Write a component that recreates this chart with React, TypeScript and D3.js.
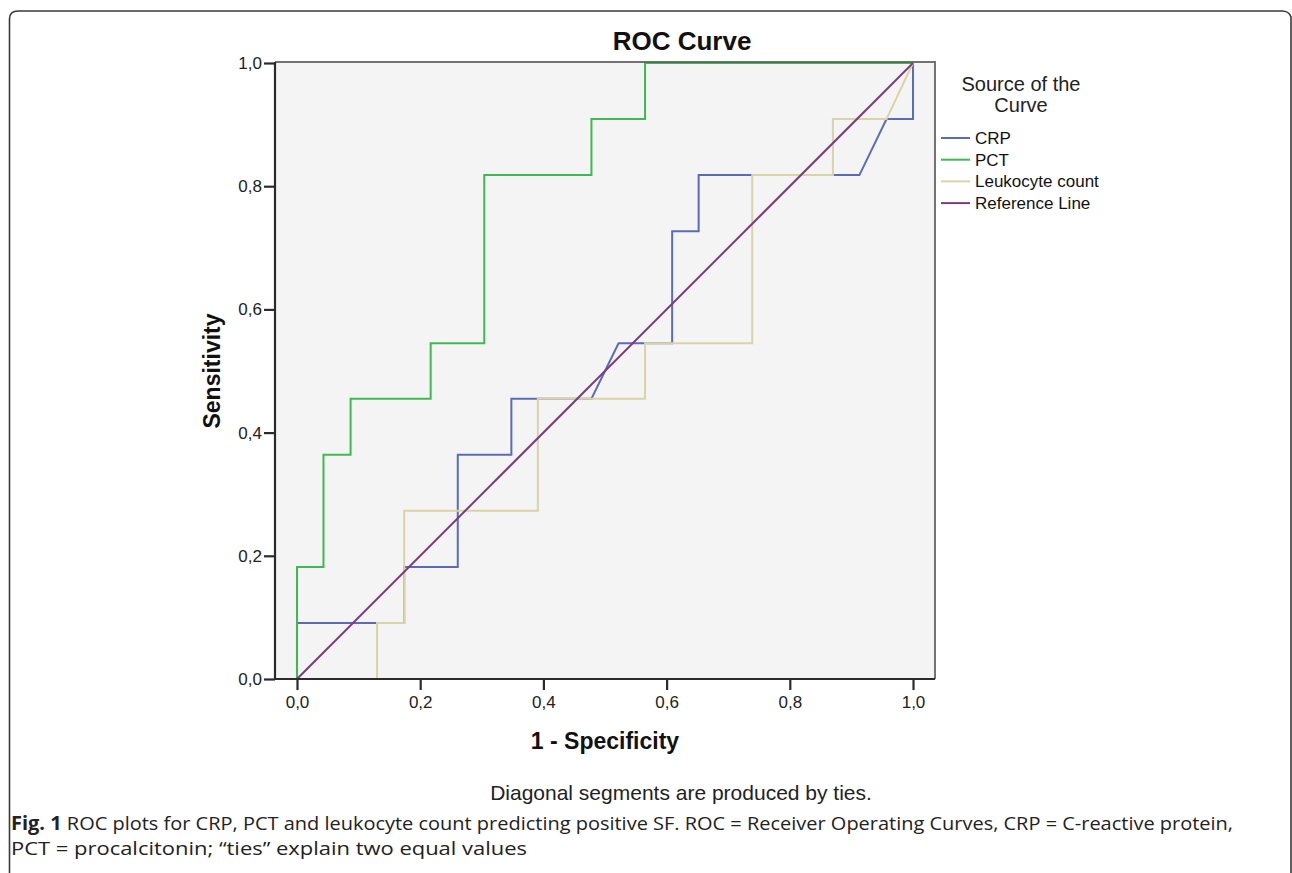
import React, { useEffect, useRef } from "react";
import * as d3 from "d3";

// ROC curve points (1 - specificity, sensitivity)
const CRP_X = [0, 0, 0.174, 0.174, 0.261, 0.261, 0.348, 0.348, 0.478, 0.522, 0.609, 0.609, 0.652, 0.652, 0.913, 0.957, 1, 1];
const CRP_Y = [0, 0.091, 0.091, 0.182, 0.182, 0.364, 0.364, 0.455, 0.455, 0.545, 0.545, 0.727, 0.727, 0.818, 0.818, 0.909, 0.909, 1];
const PCT_X = [0, 0, 0.043, 0.043, 0.087, 0.087, 0.217, 0.217, 0.304, 0.304, 0.478, 0.478, 0.565, 0.565, 1];
const PCT_Y = [0, 0.182, 0.182, 0.364, 0.364, 0.455, 0.455, 0.545, 0.545, 0.818, 0.818, 0.909, 0.909, 1, 1];
const LEU_X = [0, 0.13, 0.13, 0.174, 0.174, 0.391, 0.391, 0.565, 0.565, 0.739, 0.739, 0.87, 0.87, 0.957, 1];
const LEU_Y = [0, 0, 0.091, 0.091, 0.273, 0.273, 0.455, 0.455, 0.545, 0.545, 0.818, 0.818, 0.909, 0.909, 1];
const REF_X = [0, 1];
const REF_Y = [0, 1];

const SERIES = ["CRP", "PCT", "Leukocyte count", "Reference Line"];
const COLORS = ["#5b6cb6", "#3dba52", "#d9d3a8", "#7d3a7c"];
const TICKS = [0, 0.2, 0.4, 0.6, 0.8, 1];

const WIDTH = 1292;
const HEIGHT = 873;
const FRAME = { left: 275, right: 935, top: 62, bottom: 679 };
const PAD = 0.0357; // x padding in data units on each side
const FONT = "'Liberation Sans', Arial, sans-serif";
const CAP_FONT = "'Open Sans', sans-serif";

const X_SCALE = d3.scaleLinear().domain([-PAD, 1 + PAD]).range([FRAME.left, FRAME.right]);
const Y_SCALE = d3.scaleLinear().domain([0, 1]).range([FRAME.bottom, 63]);
const LOCALE = d3.formatLocale({ decimal: ",", thousands: ".", grouping: [3], currency: ["", ""] });
const FMT = LOCALE.format(".1f");

const zip = (xs: number[], ys: number[]) => xs.map((x, i) => [x, ys[i]] as [number, number]);

export default function App() {
  const ref = useRef<SVGSVGElement>(null);

  useEffect(() => {
    const svg = d3.select(ref.current);
    svg.selectAll("*").remove();

    // outer figure box (rounded top corners, runs off the bottom)
    svg
      .append("path")
      .attr("d", "M9.5,880 L9.5,19 Q9.5,11 18,11 L1282,11 Q1289,11 1291,17 L1291,880")
      .attr("fill", "none")
      .attr("stroke", "#3a3a3a")
      .attr("stroke-width", 1.6);

    // plot area
    svg
      .append("rect")
      .attr("x", FRAME.left)
      .attr("y", FRAME.top)
      .attr("width", FRAME.right - FRAME.left)
      .attr("height", FRAME.bottom - FRAME.top)
      .attr("fill", "#f4f4f4");

    const line = d3
      .line<[number, number]>()
      .x((d) => X_SCALE(d[0]))
      .y((d) => Y_SCALE(d[1]));

    const data = [zip(CRP_X, CRP_Y), zip(PCT_X, PCT_Y), zip(LEU_X, LEU_Y), zip(REF_X, REF_Y)];
    data.forEach((pts, i) => {
      svg
        .append("path")
        .attr("d", line(pts))
        .attr("fill", "none")
        .attr("stroke", COLORS[i])
        .attr("stroke-width", 2);
    });

    // frame: top/right grey, left/bottom dark
    svg
      .append("path")
      .attr("d", `M${FRAME.left},${FRAME.top} L${FRAME.right},${FRAME.top} L${FRAME.right},${FRAME.bottom}`)
      .attr("fill", "none")
      .attr("stroke", "#5a5a5a")
      .attr("stroke-width", 2)
      .attr("stroke-opacity", 0.85);
    svg
      .append("path")
      .attr("d", `M${FRAME.left},${FRAME.top} L${FRAME.left},${FRAME.bottom} L${FRAME.right},${FRAME.bottom}`)
      .attr("fill", "none")
      .attr("stroke", "#2b2b2b")
      .attr("stroke-width", 2.2);

    // axes
    const yAxis = d3.axisLeft(Y_SCALE).tickValues(TICKS).tickFormat((d) => FMT(d as number)).tickSize(11).tickPadding(2);
    const xAxis = d3.axisBottom(X_SCALE).tickValues(TICKS).tickFormat((d) => FMT(d as number)).tickSize(11).tickPadding(6);
    const gy = svg.append("g").attr("transform", `translate(${FRAME.left},0)`).call(yAxis);
    const gx = svg.append("g").attr("transform", `translate(0,${FRAME.bottom})`).call(xAxis);
    [gx, gy].forEach((g) => {
      g.select(".domain").remove();
      g.selectAll(".tick line").attr("stroke", "#2b2b2b").attr("stroke-width", 2.2);
      g.selectAll(".tick text").attr("fill", "#222").style("font-family", FONT).style("font-size", "17px");
    });

    // titles
    svg
      .append("text")
      .attr("x", 682)
      .attr("y", 50)
      .attr("text-anchor", "middle")
      .style("font-family", FONT)
      .style("font-size", "26px")
      .style("font-weight", "bold")
      .attr("fill", "#111")
      .text("ROC Curve");
    svg
      .append("text")
      .attr("x", X_SCALE(0.5))
      .attr("y", 749)
      .attr("text-anchor", "middle")
      .style("font-family", FONT)
      .style("font-size", "23px")
      .style("font-weight", "bold")
      .attr("fill", "#111")
      .text("1 - Specificity");
    svg
      .append("text")
      .attr("transform", `translate(220,${Y_SCALE(0.5)}) rotate(-90)`)
      .attr("text-anchor", "middle")
      .style("font-family", FONT)
      .style("font-size", "23px")
      .style("font-weight", "bold")
      .attr("fill", "#111")
      .text("Sensitivity");

    // legend
    const lg = svg.append("g");
    ["Source of the", "Curve"].forEach((t, i) => {
      lg.append("text")
        .attr("x", 1021)
        .attr("y", 91 + i * 21)
        .attr("text-anchor", "middle")
        .style("font-family", FONT)
        .style("font-size", "20px")
        .attr("fill", "#222")
        .text(t);
    });
    SERIES.forEach((s, i) => {
      const yy = 138 + i * 21.7;
      lg.append("line")
        .attr("x1", 941)
        .attr("x2", 970)
        .attr("y1", yy)
        .attr("y2", yy)
        .attr("stroke", COLORS[i])
        .attr("stroke-width", 2);
      lg.append("text")
        .attr("x", 975)
        .attr("y", yy + 6)
        .style("font-family", FONT)
        .style("font-size", "17px")
        .attr("fill", "#111")
        .text(s);
    });

    svg
      .append("text")
      .attr("x", 681)
      .attr("y", 800)
      .attr("text-anchor", "middle")
      .style("font-family", FONT)
      .style("font-size", "21px")
      .attr("fill", "#222")
      .text("Diagonal segments are produced by ties.");

    // caption
    const cap = svg
      .append("text")
      .attr("x", 11)
      .attr("y", 830)
      .attr("textLength", 1222)
      .attr("lengthAdjust", "spacingAndGlyphs")
      .style("font-family", CAP_FONT)
      .style("font-size", "19px")
      .attr("fill", "#222");
    cap.append("tspan").style("font-weight", "bold").text("Fig. 1");
    cap
      .append("tspan")
      .text(" ROC plots for CRP, PCT and leukocyte count predicting positive SF. ROC = Receiver Operating Curves, CRP = C-reactive protein,");
    svg
      .append("text")
      .attr("x", 11)
      .attr("y", 855)
      .attr("textLength", 516)
      .attr("lengthAdjust", "spacingAndGlyphs")
      .style("font-family", CAP_FONT)
      .style("font-size", "19px")
      .attr("fill", "#222")
      .text("PCT = procalcitonin; \u201cties\u201d explain two equal values");
  }, []);

  return (
    <svg
      ref={ref}
      width={WIDTH}
      height={HEIGHT}
      style={{ position: "absolute", left: 0, top: 0, background: "#fff" }}
    />
  );
}
